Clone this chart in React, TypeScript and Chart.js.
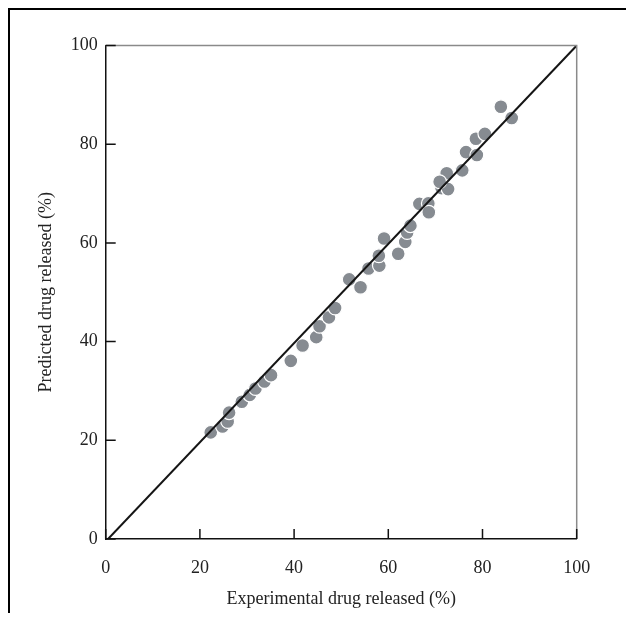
import React, { useEffect, useRef } from "react";
import { Chart, registerables } from "chart.js";

Chart.register(...registerables);

const experimental = [
  22.3, 24.8, 25.9, 26.2, 28.9, 30.6, 31.8, 33.7, 35.1, 39.3, 41.8, 44.7, 45.4,
  47.4, 48.7, 51.7, 54.1, 55.8, 58.1, 58.0, 59.1, 62.1, 63.6, 64.0, 64.7, 66.6,
  68.5, 68.6, 71.3, 72.4, 72.7, 70.9, 75.7, 76.5, 78.8, 78.6, 80.5, 83.9, 86.2,
];
const predicted = [
  21.6, 22.8, 23.8, 25.6, 27.8, 29.2, 30.5, 31.9, 33.2, 36.1, 39.2, 40.9, 43.1,
  44.9, 46.8, 52.6, 51.0, 54.8, 55.4, 57.4, 60.9, 57.8, 60.2, 62.1, 63.5, 67.9,
  68.0, 66.2, 71.1, 74.1, 70.9, 72.4, 74.7, 78.4, 77.8, 81.1, 82.1, 87.6, 85.3,
];
const fitLineX = [0.5, 100];
const fitLineY = [0, 100];
const tickValues = [0, 20, 40, 60, 80, 100];

const xTitle = "Experimental drug released (%)";
const yTitle = "Predicted drug released (%)";

const FONT = "'Liberation Serif', 'Times New Roman', serif";

const framePlugin = {
  id: "framePlugin",
  afterDraw(chart: any) {
    const { ctx, chartArea, scales } = chart;
    const { left, right, top, bottom } = chartArea;
    ctx.save();
    ctx.lineCap = "butt";
    ctx.strokeStyle = "#8a8a8a";
    ctx.lineWidth = 1.5;
    ctx.beginPath();
    ctx.moveTo(left, top);
    ctx.lineTo(right, top);
    ctx.lineTo(right, bottom);
    ctx.stroke();
    ctx.strokeStyle = "#111";
    ctx.lineWidth = 1.5;
    const len = 10;
    ctx.beginPath();
    for (const v of tickValues) {
      const px = scales.x.getPixelForValue(v);
      ctx.moveTo(px, bottom);
      ctx.lineTo(px, bottom - len);
      const py = scales.y.getPixelForValue(v);
      ctx.moveTo(left, py);
      ctx.lineTo(left + len, py);
    }
    ctx.stroke();
    ctx.restore();
  },
};

export default function App() {
  const canvasRef = useRef<HTMLCanvasElement | null>(null);

  useEffect(() => {
    document.documentElement.style.overflow = "hidden";
    const canvas = canvasRef.current;
    if (!canvas) return;
    const chart = new Chart(canvas, {
      type: "scatter",
      data: {
        datasets: [
          {
            type: "line",
            data: fitLineX.map((x, i) => ({ x, y: fitLineY[i] })),
            borderColor: "#151515",
            borderWidth: 2,
            pointRadius: 0,
            showLine: true,
            fill: false,
          } as any,
          {
            data: experimental.map((x, i) => ({ x, y: predicted[i] })),
            backgroundColor: "#868b91",
            borderColor: "#ffffff",
            borderWidth: 1.2,
            pointRadius: 6.9,
          },
        ],
      },
      options: {
        responsive: false,
        animation: false,
        devicePixelRatio: 1,
        layout: { padding: { left: 0, top: 35.5, right: 57.3, bottom: 0 } },
        plugins: {
          legend: { display: false },
          tooltip: { enabled: false },
        },
        scales: {
          x: {
            type: "linear",
            min: 0,
            max: 100,
            ticks: {
              stepSize: 20,
              padding: 18,
              color: "#222",
              font: { family: FONT, size: 18 },
            },
            grid: { display: false, drawTicks: false },
            border: { display: true, color: "#111", width: 1.5 },
            title: {
              display: true,
              text: xTitle,
              color: "#222",
              font: { family: FONT, size: 18 },
              padding: { top: 0, bottom: 3 },
            },
            afterFit: (s: any) => {
              s.height = 74;
            },
          },
          y: {
            type: "linear",
            min: 0,
            max: 100,
            ticks: {
              stepSize: 20,
              padding: 8,
              color: "#222",
              font: { family: FONT, size: 18 },
            },
            grid: { display: false, drawTicks: false },
            border: { display: true, color: "#111", width: 1.5 },
            title: {
              display: true,
              text: yTitle,
              color: "#222",
              font: { family: FONT, size: 18 },
              padding: { top: 25, bottom: 0 },
            },
            afterFit: (s: any) => {
              s.width = 95.7;
            },
          },
        },
      },
      plugins: [framePlugin],
    });
    return () => chart.destroy();
  }, []);

  return (
    <div
      style={{
        position: "relative",
        width: 626,
        height: 605,
        borderLeft: "2px solid #000",
        borderTop: "2px solid #000",
        boxSizing: "border-box",
        background: "#fff",
      }}
    >
      <canvas
        ref={canvasRef}
        width={624}
        height={603}
        style={{ display: "block", width: 624, height: 603 }}
      />
    </div>
  );
}
